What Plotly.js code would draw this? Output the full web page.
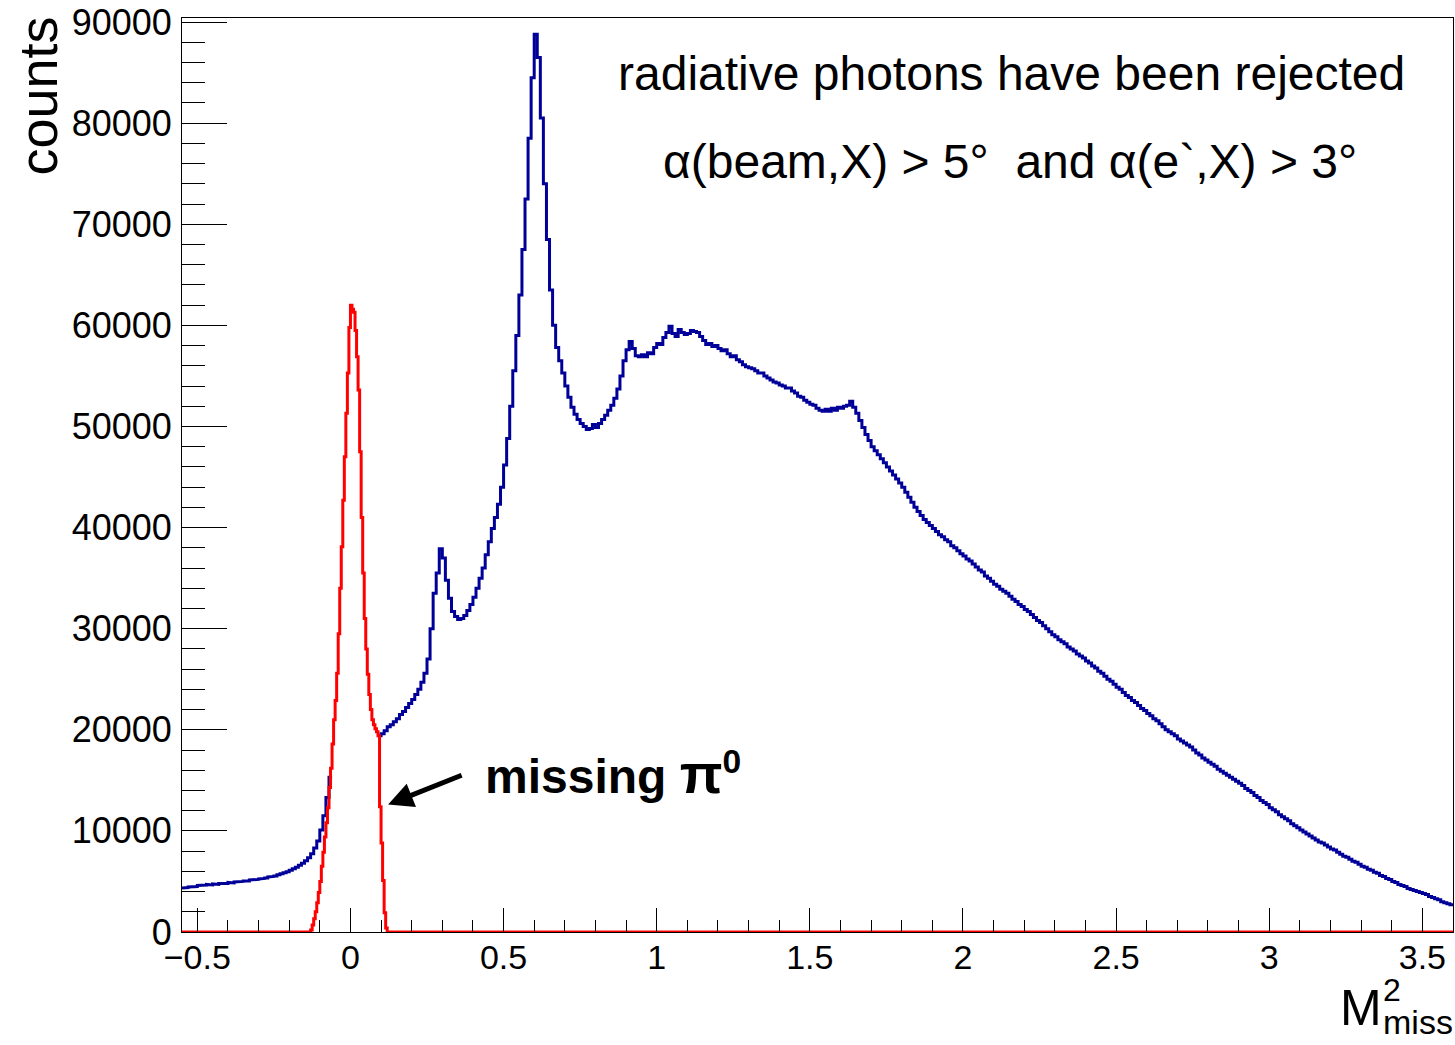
<!DOCTYPE html>
<html>
<head>
<meta charset="utf-8">
<script src="https://cdn.plot.ly/plotly-3.0.1.min.js"></script>
<style>
  html, body { margin: 0; padding: 0; background: #ffffff; }
  #chart { width: 1455px; height: 1045px; }
</style>
</head>
<body>
<div id="chart"></div>
<script>
// ---- axis range ----
const xMin = -0.55;
const xMax = 3.6;
const yMin = 0;
const yMax = 90400;

// ---- blue histogram: all events, 0.01 wide bins from -0.55 (hidden under red where null) ----
const blueBinStart = -0.55;
const blueBinWidth = 0.01;
const blueCounts = [
  4350, 4400, 4450, 4500, 4500,
  4600, 4600, 4650, 4700, 4650, 4750, 4700, 4800, 4850, 4800,
  4900, 4850, 4950, 4950, 5000, 5050, 5050, 5150, 5150, 5200,
  5250, 5300, 5350, 5450, 5500, 5550, 5650, 5750, 5850, 5950,
  6100, 6250, 6400, 6600, 6800, 7050, 7350, 7750, 8300, 9000,
  10100, 11500, 13300, 15300, null, null, null, null, null, null,
  null, null, null, null, null, null, null, null, null, 19400,
  19600, 19900, 20300, 20500, 20800, 21100, 21500, 21800, 22200, 22600,
  23000, 23500, 24000, 24700, 25600, 27000, 30000, 33500, 35500, 37900,
  37000, 34800, 33000, 31700, 31200, 30900, 31000, 31300, 31800, 32400,
  33100, 34000, 35000, 36000, 37300, 38600, 39900, 41000, 42300, 44000,
  46200, 48800, 52000, 55500, 59000, 63000, 67500, 72500, 78500, 84500,
  88800, 86500, 80500, 74000, 68500, 63500, 60000, 57800, 56500, 55300,
  54000, 52900, 51900, 51200, 50700, 50300, 50000, 49700, 49800, 50200,
  49900, 50300, 50700, 51100, 51600, 52100, 52800, 53700, 55000, 56500,
  57600, 58400, 57700, 57000, 56900, 57100, 56900, 57300, 57200, 57800,
  58200, 58100, 58800, 59300, 59900, 59200, 58900, 59600, 59300, 59100,
  59200, 59500, 59400, 59300, 58900, 58500, 58100, 58200, 57900, 58000,
  57700, 57500, 57600, 57200, 56900, 57000, 56600, 56400, 56100, 55900,
  55800, 55700, 55500, 55300, 55300, 55000, 54800, 54600, 54400, 54300,
  54100, 54000, 53800, 53800, 53500, 53300, 53000, 52900, 52600, 52400,
  52200, 52100, 51800, 51600, 51500, 51700, 51500, 51800, 51600, 51900,
  51800, 52000, 52100, 52500, 51900, 51300, 50600, 49900, 49200, 48600,
  48000, 47600, 47200, 46800, 46400, 46000, 45600, 45200, 44800, 44400,
  44000, 43500, 43000, 42500, 42000, 41600, 41200, 40800, 40500, 40200,
  39900, 39600, 39300, 39100, 38800, 38600, 38200, 38000, 37700, 37400,
  37200, 36900, 36700, 36400, 36100, 35800, 35600, 35200, 35000, 34700,
  34400, 34200, 33900, 33700, 33500, 33200, 32900, 32700, 32400, 32200,
  31900, 31700, 31400, 31100, 30800, 30600, 30300, 30000, 29700, 29400,
  29200, 28900, 28700, 28500, 28200, 28000, 27800, 27500, 27300, 27100,
  26800, 26600, 26300, 26100, 25800, 25600, 25300, 25000, 24800, 24500,
  24200, 24000, 23700, 23400, 23200, 22900, 22700, 22400, 22100, 21900,
  21600, 21400, 21100, 20900, 20600, 20300, 20000, 19800, 19600, 19400,
  19100, 18900, 18700, 18500, 18300, 18000, 17700, 17500, 17200, 17000,
  16800, 16600, 16400, 16100, 15900, 15700, 15500, 15300, 15100, 14900,
  14700, 14500, 14200, 14000, 13800, 13500, 13300, 13000, 12800, 12600,
  12300, 12100, 11900, 11600, 11400, 11200, 11000, 10700, 10500, 10300,
  10100, 9900, 9700, 9500, 9300, 9100, 8900, 8800, 8600, 8400,
  8200, 8100, 7900, 7700, 7500, 7400, 7200, 7000, 6900, 6700,
  6500, 6400, 6200, 6100, 5900, 5800, 5600, 5500, 5300, 5200,
  5000, 4900, 4700, 4600, 4500, 4300, 4200, 4100, 4000, 3900,
  3800, 3700, 3500, 3400, 3300, 3200, 3000, 2900, 2800, 2700
];

// ---- red histogram: missing pi0 selection, 0.005 wide bins from -0.135 (zero elsewhere) ----
const redBinStart = -0.135;
const redBinWidth = 0.005;
const redCounts = [
  0, 200, 700, 1300, 2000, 2900, 3900, 5000, 6500, 7900,
  9400, 10800, 12300, 14300, 16200, 18600, 21000, 22900, 25600, 29500,
  34000, 38100, 42700, 47000, 51300, 55300, 59800, 62000, 61600, 61300,
  59500, 56900, 53600, 47500, 41000, 35500, 31000, 28000, 25500, 23500,
  22000, 21000, 20500, 20100, 19800, 19400, 12400, 8800, 5100, 1900,
  400, 0
];

// ---- texts ----
const yTitle = "counts";
const noteLine1 = "radiative photons have been rejected";
const noteLine2 = "α(beam,X) > 5°  and α(e`,X) > 3°";
const pi0Label = "<b>missing <span style='font-size:56px'>π</span><sup>0</sup></b>";
const xTitleMain = "M";
const xTitleSup = "2";
const xTitleSub = "miss";

// build histogram step outlines from bin start, width and counts
function stepOutline(start, width, counts) {
  const xs = [], ys = [];
  counts.forEach((v, i) => {
    if (v === null) { xs.push(null); ys.push(null); return; }
    xs.push(start + i * width, start + (i + 1) * width);
    ys.push(v, v);
  });
  return { xs, ys };
}

const blue = stepOutline(blueBinStart, blueBinWidth, blueCounts);
const red = stepOutline(redBinStart, redBinWidth, redCounts);
// red histogram is empty over the rest of the axis
red.xs.unshift(xMin); red.ys.unshift(0);
red.xs.push(xMax); red.ys.push(0);

const FONT = "Liberation Sans, Arial, Helvetica, sans-serif";

const traces = [
  { x: blue.xs, y: blue.ys, type: "scatter", mode: "lines",
    line: { color: "#000099", width: 3 }, connectgaps: false, hoverinfo: "skip" },
  { x: red.xs, y: red.ys, type: "scatter", mode: "lines",
    line: { color: "#ff0000", width: 3 }, hoverinfo: "skip" }
];

// plot area in pixels: left 182, right 1453, top 18, bottom 932
const L = 182, R = 1453, T = 18, B = 932;
const px = p => (p - L) / (R - L);
const py = p => (B - p) / (B - T);

const layout = {
  width: 1455, height: 1045,
  margin: { l: L, r: 1455 - R, t: T, b: 1045 - B, pad: 0 },
  paper_bgcolor: "#ffffff", plot_bgcolor: "#ffffff",
  showlegend: false,
  font: { family: FONT, color: "#000000" },
  xaxis: {
    range: [xMin, xMax], tick0: 0, dtick: 0.5,
    ticks: "inside", ticklen: 24, tickwidth: 1, tickcolor: "#000000",
    minor: { dtick: 0.1, ticks: "inside", ticklen: 12, tickwidth: 1, tickcolor: "#000000" },
    showline: true, linecolor: "#000000", linewidth: 1, mirror: true,
    showgrid: false, zeroline: false,
    tickfont: { family: FONT, size: 34, color: "#000000" },
    ticklabelstandoff: -5
  },
  yaxis: {
    range: [yMin, yMax], tick0: 0, dtick: 10000, tickformat: "d",
    ticks: "inside", ticklen: 45, tickwidth: 1, tickcolor: "#000000",
    minor: { dtick: 2000, ticks: "inside", ticklen: 23, tickwidth: 1, tickcolor: "#000000" },
    showline: true, linecolor: "#000000", linewidth: 1, mirror: true,
    showgrid: false, zeroline: false,
    tickfont: { family: FONT, size: 36, color: "#000000" },
    ticklabelstandoff: 2
  },
  annotations: [
    { text: noteLine1, xref: "paper", yref: "paper", x: px(1011), y: py(74),
      xanchor: "center", yanchor: "middle", showarrow: false,
      font: { family: FONT, size: 48, color: "#000000" } },
    { text: noteLine2, xref: "paper", yref: "paper", x: px(1010), y: py(162),
      xanchor: "center", yanchor: "middle", showarrow: false,
      font: { family: FONT, size: 48, color: "#000000" } },
    { text: pi0Label, xref: "paper", yref: "paper", x: px(483), y: py(773),
      xanchor: "left", yanchor: "middle", showarrow: false,
      font: { family: FONT, size: 48, color: "#000000" } },
    { text: "", xref: "x", yref: "y", x: 0.123, y: 12600,
      ax: 75, ay: -30, axref: "pixel", ayref: "pixel",
      showarrow: true, arrowhead: 2, arrowsize: 1, arrowwidth: 5, arrowcolor: "#000000" },
    { text: yTitle, xref: "paper", yref: "paper", x: px(37), y: py(15),
      xanchor: "center", yanchor: "top", textangle: -90, showarrow: false,
      font: { family: FONT, size: 54, color: "#000000" } },
    { text: xTitleMain, xref: "paper", yref: "paper", x: px(1338), y: py(1007.7),
      xanchor: "left", yanchor: "middle", showarrow: false,
      font: { family: FONT, size: 50, color: "#000000" } },
    { text: xTitleSup, xref: "paper", yref: "paper", x: px(1381), y: py(990),
      xanchor: "left", yanchor: "middle", showarrow: false,
      font: { family: FONT, size: 32, color: "#000000" } },
    { text: xTitleSub, xref: "paper", yref: "paper", x: px(1455), y: py(1022),
      xanchor: "right", yanchor: "middle", showarrow: false,
      font: { family: FONT, size: 34, color: "#000000" } }
  ]
};

Plotly.newPlot("chart", traces, layout, { staticPlot: true, displayModeBar: false });
</script>
</body>
</html>
